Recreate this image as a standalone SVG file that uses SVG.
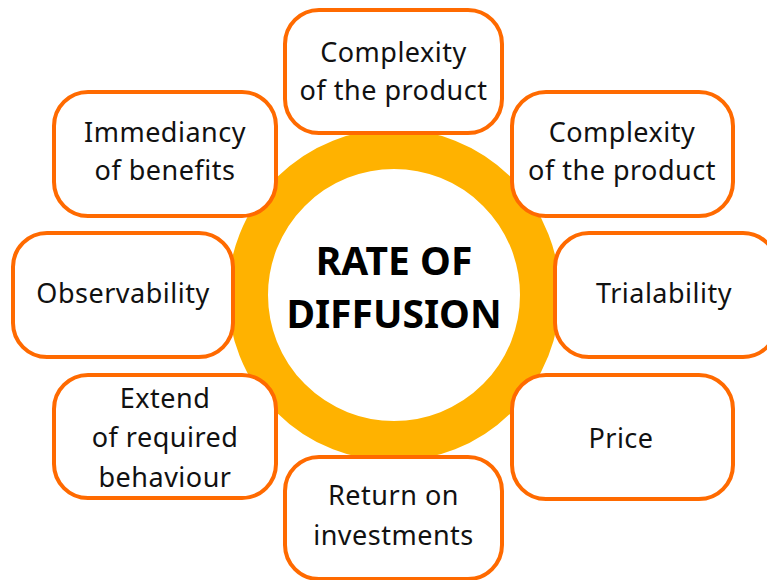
<svg xmlns="http://www.w3.org/2000/svg" width="767" height="580" viewBox="0 0 767 580">
<style>
.box{fill:#fff;stroke:#FF6A00;stroke-width:4}
.t{font-family:"Noto Sans","Open Sans",sans-serif;font-size:27px;letter-spacing:0.5px;fill:#111;text-anchor:middle}
.h{font-family:"Noto Sans","Open Sans",sans-serif;font-size:39px;font-weight:bold;fill:#000;text-anchor:middle}
</style>
<rect width="767" height="580" fill="#fff"/>
<g id="center">
<circle cx="394" cy="295" r="146" fill="#fff" stroke="#FFB200" stroke-width="40"/>
<text class="h" x="394" y="275">RATE OF</text>
<text class="h" x="394" y="328">DIFFUSION</text>
</g>
<g id="connectors"/>
<g id="n-top">
<rect class="box" x="285" y="10" width="217" height="123" rx="34"/>
<text class="t" x="393.5" y="62">Complexity</text>
<text class="t" x="393.5" y="100">of the product</text>
</g>
<g id="n-upper-right">
<rect class="box" x="512" y="92" width="221" height="124" rx="34"/>
<text class="t" x="622" y="142">Complexity</text>
<text class="t" x="622" y="180">of the product</text>
</g>
<g id="n-trialability">
<rect class="box" x="555" y="233" width="222" height="124" rx="34"/>
<text class="t" x="664" y="303">Trialability</text>
</g>
<g id="n-price">
<rect class="box" x="512" y="375" width="221" height="124" rx="34"/>
<text class="t" x="621" y="448">Price</text>
</g>
<g id="n-return">
<rect class="box" x="285" y="457" width="217" height="122" rx="34"/>
<text class="t" x="393.5" y="505">Return on</text>
<text class="t" x="393.5" y="545">investments</text>
</g>
<g id="n-extend">
<rect class="box" x="54" y="375" width="222" height="123" rx="34"/>
<text class="t" x="165" y="408">Extend</text>
<text class="t" x="165" y="447">of required</text>
<text class="t" x="165" y="487">behaviour</text>
</g>
<g id="n-observability">
<rect class="box" x="13" y="233" width="220" height="124" rx="34"/>
<text class="t" x="123" y="303">Observability</text>
</g>
<g id="n-immediancy">
<rect class="box" x="54" y="92" width="222" height="124" rx="34"/>
<text class="t" x="165" y="142">Immediancy</text>
<text class="t" x="165" y="180">of benefits</text>
</g>
</svg>
